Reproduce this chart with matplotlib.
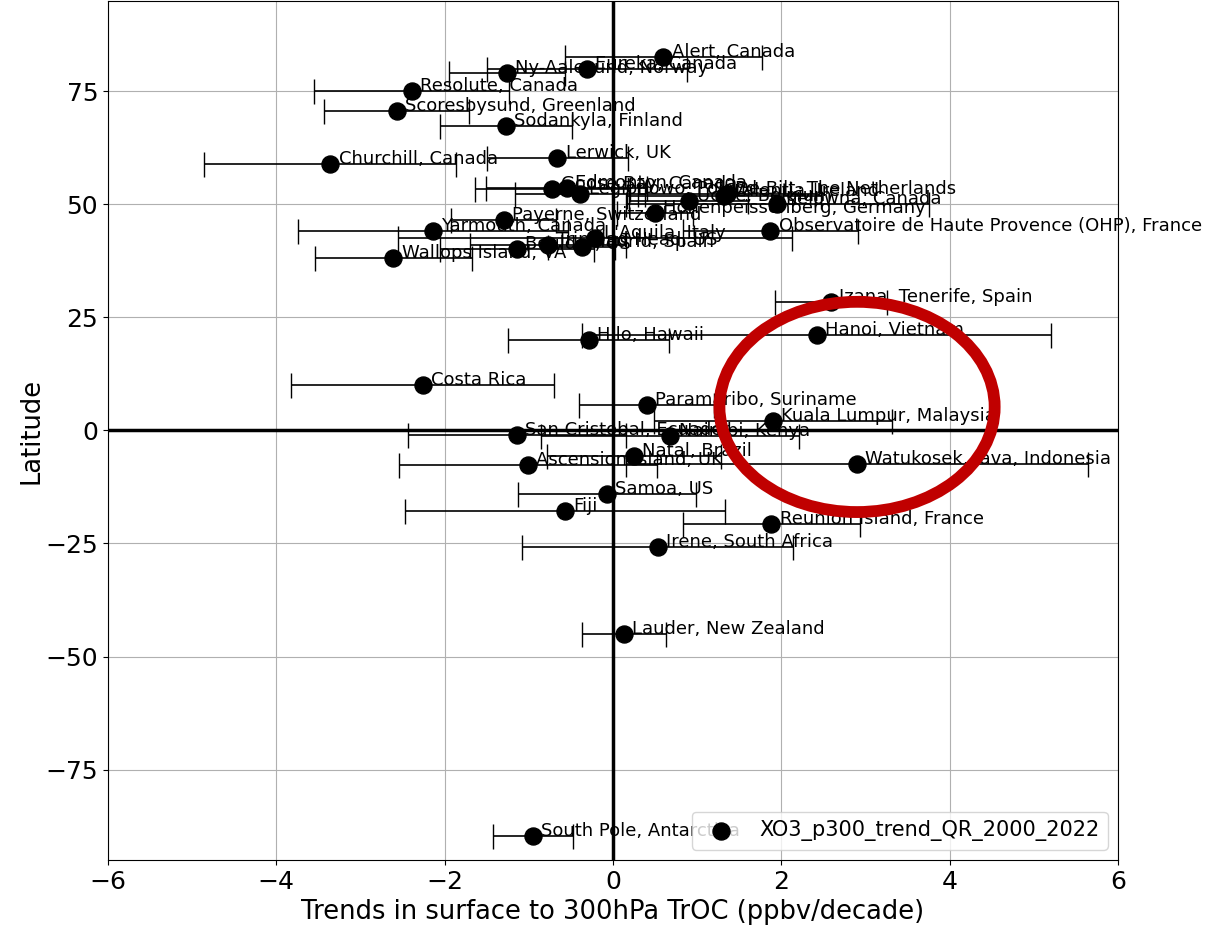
import numpy as np
import matplotlib
matplotlib.use('Agg')
import matplotlib.pyplot as plt
from matplotlib.patches import Ellipse

# station data
stations = ['Alert, Canada', 'Eureka, Canada', 'Ny-Aalesund, Norway', 'Resolute, Canada',
            'Scoresbysund, Greenland', 'Sodankyla, Finland', 'Lerwick, UK', 'Churchill, Canada',
            'Goose Bay, Canada', 'Edmonton, Canada', 'Legionowo, Poland', 'Valentia, Ireland',
            'De Bilt, The Netherlands', 'Uccle, Belgium', 'Kelowna, Canada',
            'Hohenpeissenberg, Germany', 'Payerne, Switzerland', 'Yarmouth, Canada',
            'Observatoire de Haute Provence (OHP), France', "L'Aquila, Italy", 'Trinidad Head, US',
            'Madrid, Spain', 'Boulder, US', 'Wallops Island, VA', 'Izana, Tenerife, Spain',
            'Hanoi, Vietnam', 'Hilo, Hawaii', 'Costa Rica', 'Paramaribo, Suriname',
            'Kuala Lumpur, Malaysia', 'San Cristobal, Ecuador', 'Nairobi, Kenya', 'Natal, Brazil',
            'Ascension Island, UK', 'Watukosek, Java, Indonesia', 'Samoa, US', 'Fiji',
            'Reunion Island, France', 'Irene, South Africa', 'Lauder, New Zealand',
            'South Pole, Antarctica']
lat = [82.5, 79.9, 79.0, 75.0, 70.6, 67.3, 60.2, 58.9,
       53.5, 53.7, 52.4, 51.9, 52.3, 50.7, 50.1,
       48.1, 46.5, 44.1, 44.1, 42.6, 41.0, 40.6, 40.2, 38.2, 28.5,
       21.2, 19.9, 10.1, 5.7, 2.2, -0.9, -1.3, -5.7,
       -7.7, -7.5, -14.1, -17.9, -20.7, -25.8, -45.0, -89.8]
trend = [0.60, -0.31, -1.26, -2.39, -2.57, -1.27, -0.66, -3.36,
         -0.72, -0.55, -0.39, 1.32, 1.35, 0.90, 1.95,
         0.50, -1.30, -2.14, 1.87, -0.21, -0.77, -0.37, -1.14, -2.61, 2.59,
         2.42, -0.29, -2.26, 0.40, 1.90, -1.14, 0.68, 0.25,
         -1.01, 2.90, -0.07, -0.57, 1.88, 0.53, 0.13, -0.95]
err = [1.17, 1.19, 0.69, 1.16, 0.86, 0.78, 0.84, 1.50,
       0.92, 0.96, 0.77, 1.15, 1.05, 0.71, 1.80,
       0.45, 0.62, 1.60, 1.04, 2.34, 0.93, 0.40, 0.92, 0.93, 0.66,
       2.79, 0.96, 1.56, 0.80, 1.41, 1.30, 1.53, 1.03,
       1.53, 2.74, 1.06, 1.90, 1.05, 1.61, 0.50, 0.47]

fig = plt.figure(figsize=(12.09, 9.26), dpi=100)
ax = fig.add_axes([0.0893, 0.0713, 0.8354, 0.9277])

ax.errorbar(trend, lat, xerr=err, fmt='none', ecolor='black', elinewidth=1.2, capsize=9, zorder=2)
ax.scatter(trend, lat, s=150, color='black', zorder=3, label='XO3_p300_trend_QR_2000_2022')
for x, y, name in zip(trend, lat, stations):
    ax.text(x + 0.1, y, name, fontsize=13)

ax.axhline(0, color='black', lw=2.5)
ax.axvline(0, color='black', lw=2.5)

# highlight of the tropical SE Asia stations
ax.add_patch(Ellipse((2.9, 5.2), width=3.27, height=46.5, fill=False,
                     edgecolor='#c00000', lw=8.5, zorder=4))

ax.set_xlim(-6, 6)
ax.set_ylim(-95, 95)
ax.grid(True)
ax.tick_params(labelsize=18)
ax.set_xlabel('Trends in surface to 300hPa TrOC (ppbv/decade)', fontsize=18.5)
ax.set_ylabel('Latitude', fontsize=18.5, labelpad=1)
ax.legend(loc='lower right', fontsize=15)

plt.savefig('out.png', dpi=100)
